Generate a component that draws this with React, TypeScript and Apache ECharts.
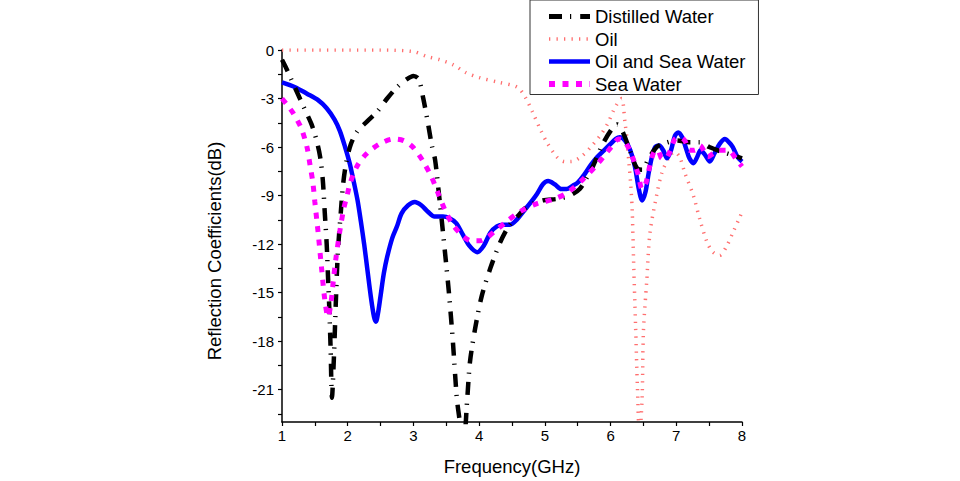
import React, { useEffect, useRef } from "react";
import * as echarts from "echarts";

const seriesNames = ["Distilled Water", "Oil", "Oil and Sea Water", "Sea Water"];

const distilledFreq = [1.0, 1.05, 1.15, 1.25, 1.35, 1.45, 1.52, 1.58, 1.62, 1.65, 1.68, 1.7, 1.72, 1.74, 1.76, 1.79, 1.82, 1.85, 1.89, 1.93, 1.98, 2.05, 2.15, 2.3, 2.45, 2.6, 2.75, 2.9, 3.0, 3.08, 3.15, 3.22, 3.28, 3.33, 3.38, 3.43, 3.48, 3.54, 3.6, 3.66, 3.7, 3.76, 3.82, 3.86, 3.94, 4.04, 4.17, 4.32, 4.45, 4.58, 4.73, 4.97, 5.2, 5.38, 5.53, 5.65, 5.73, 5.87, 6.0, 6.1, 6.2, 6.3, 6.4, 6.48, 6.58, 6.7, 6.8, 7.0, 7.2, 7.36, 7.5, 7.7, 7.86, 8.0];
const distilledDb = [-0.6, -1.0, -1.9, -2.8, -3.7, -4.6, -5.5, -6.6, -8.0, -10.0, -12.0, -14.0, -16.0, -18.5, -21.5, -19.0, -15.5, -12.5, -10.3, -8.3, -6.9, -5.8, -5.0, -4.4, -3.8, -3.0, -2.3, -1.8, -1.6, -1.8, -3.0, -4.5, -5.9, -6.8, -8.6, -10.5, -12.5, -15.0, -18.0, -21.5, -22.8, -24.5, -21.5, -19.3, -17.2, -15.2, -13.5, -11.9, -10.9, -10.3, -9.7, -9.3, -9.2, -9.0, -8.6, -7.8, -7.2, -5.9, -5.0, -4.6, -5.2, -6.3, -7.3, -7.4, -6.7, -6.0, -5.8, -5.6, -5.7, -5.7, -6.0, -6.3, -6.5, -6.7];

const oilFreq = [1.0, 1.5, 2.0, 2.5, 3.0, 3.2, 3.4, 3.6, 3.8, 4.0, 4.3, 4.58, 4.7, 4.82, 4.93, 5.03, 5.18, 5.3, 5.4, 5.55, 5.7, 5.84, 5.95, 6.05, 6.12, 6.17, 6.22, 6.25, 6.28, 6.31, 6.33, 6.35, 6.38, 6.41, 6.44, 6.48, 6.5, 6.55, 6.6, 6.7, 6.78, 6.88, 6.97, 7.05, 7.13, 7.26, 7.36, 7.47, 7.56, 7.66, 7.77, 7.86, 7.97, 8.0];
const oilDb = [0, 0, 0, 0, -0.1, -0.4, -0.6, -0.9, -1.4, -1.7, -2.0, -2.3, -2.9, -3.9, -4.9, -5.7, -6.6, -6.9, -6.9, -6.6, -6.0, -5.3, -4.6, -3.7, -3.2, -3.0, -4.5, -5.5, -7.0, -8.5, -10.0, -13.0, -17.0, -21.0, -24.0, -21.5, -17.4, -14.3, -11.3, -9.0, -7.6, -6.7, -6.3, -6.6, -7.6, -9.0, -10.5, -11.9, -12.5, -12.7, -12.1, -11.3, -10.3, -10.0];

const oilSeaFreq = [1.0, 1.2, 1.38, 1.55, 1.68, 1.8, 1.88, 1.96, 2.03, 2.1, 2.15, 2.2, 2.25, 2.3, 2.35, 2.4, 2.43, 2.46, 2.5, 2.55, 2.6, 2.68, 2.75, 2.82, 2.92, 3.02, 3.12, 3.22, 3.32, 3.45, 3.55, 3.65, 3.75, 3.85, 3.97, 4.07, 4.17, 4.27, 4.37, 4.47, 4.57, 4.67, 4.77, 4.88, 4.97, 5.05, 5.15, 5.25, 5.33, 5.42, 5.5, 5.6, 5.7, 5.8, 5.9, 6.0, 6.08, 6.14, 6.22, 6.3, 6.37, 6.43, 6.48, 6.53, 6.58, 6.63, 6.68, 6.74, 6.8, 6.86, 6.92, 6.98, 7.03, 7.09, 7.15, 7.2, 7.26, 7.32, 7.37, 7.44, 7.51, 7.58, 7.66, 7.74, 7.8, 7.86, 7.93, 8.0];
const oilSeaDb = [-2.0, -2.3, -2.7, -3.1, -3.6, -4.3, -5.0, -6.0, -7.0, -8.3, -9.3, -10.6, -12.0, -13.6, -15.2, -16.5, -16.8, -16.3, -15.2, -13.8, -12.8, -11.6, -10.9, -10.1, -9.6, -9.4, -9.6, -10.0, -10.3, -10.3, -10.4, -10.7, -11.4, -12.1, -12.5, -12.1, -11.3, -10.9, -10.8, -10.8, -10.5, -10.0, -9.5, -8.9, -8.3, -8.1, -8.3, -8.6, -8.6, -8.4, -8.2, -7.7, -7.1, -6.6, -6.2, -5.8, -5.5, -5.4, -5.6, -6.2, -7.2, -8.6, -9.3, -8.8, -7.6, -6.6, -6.0, -5.9, -6.2, -6.7, -6.2, -5.3, -5.1, -5.4, -6.1, -6.7, -7.0, -6.6, -6.2, -6.5, -6.9, -6.4, -5.8, -5.5, -5.7, -6.0, -6.6, -6.9];

const seaFreq = [1.0, 1.08, 1.17, 1.24, 1.3, 1.38, 1.43, 1.47, 1.5, 1.55, 1.6, 1.65, 1.7, 1.74, 1.78, 1.82, 1.88, 1.94, 1.99, 2.04, 2.14, 2.29, 2.49, 2.7, 2.85, 2.99, 3.15, 3.28, 3.37, 3.48, 3.6, 3.75, 3.88, 4.01, 4.12, 4.24, 4.42, 4.62, 4.88, 5.15, 5.35, 5.58, 5.79, 5.95, 6.05, 6.12, 6.2, 6.28, 6.35, 6.42, 6.48, 6.54, 6.6, 6.66, 6.72, 6.78, 6.84, 6.9, 6.98, 7.06, 7.13, 7.2, 7.28, 7.36, 7.48, 7.56, 7.64, 7.79, 7.92, 8.0];
const seaDb = [-3.0, -3.4, -3.9, -4.4, -4.9, -6.0, -7.2, -8.2, -9.4, -11.3, -13.4, -15.4, -16.5, -15.8, -14.3, -12.9, -11.2, -9.8, -9.0, -8.2, -7.2, -6.4, -5.8, -5.5, -5.6, -6.0, -6.9, -7.9, -8.8, -9.9, -10.8, -11.5, -11.8, -11.8, -11.6, -11.2, -10.6, -10.0, -9.5, -9.2, -8.8, -8.0, -7.1, -6.3, -5.8, -5.5, -5.6, -6.1, -6.8, -7.7, -8.6, -8.2, -7.1, -6.3, -6.2, -6.7, -6.7, -6.3, -5.5, -5.4, -5.6, -6.2, -6.2, -5.9, -6.6, -6.4, -6.2, -6.2, -6.8, -7.2];

const yLabelValues = [-21, -18, -15, -12, -9, -6, -3, 0];
const yTickValues = [-22.5, -21, -19.5, -18, -16.5, -15, -13.5, -12, -10.5, -9, -7.5, -6, -4.5, -3, -1.5, 0];

const FONT = "'Liberation Sans', Arial, Helvetica, sans-serif";

function pairs(xs: number[], ys: number[]) {
  return xs.map((x, i) => [x, ys[i]]);
}

export default function App() {
  const ref = useRef<HTMLDivElement>(null);
  useEffect(() => {
    if (!ref.current) return;
    const chart = echarts.init(ref.current, undefined, { renderer: "svg" });
    chart.setOption({
      animation: false,
      backgroundColor: "#ffffff",
      textStyle: { fontFamily: FONT },
      grid: { left: 282, right: 218, top: 50, bottom: 57 },
      legend: {
        data: [
          { name: seriesNames[0], lineStyle: { width: 5 } },
          { name: seriesNames[1], lineStyle: { width: 3.5 } },
          { name: seriesNames[2], lineStyle: { width: 4.5 } },
          { name: seriesNames[3], lineStyle: { width: 6 } },
        ],
        orient: "vertical",
        left: 530,
        top: 0,
        borderColor: "#333",
        borderWidth: 1,
        padding: [7, 13, 1, 16],
        itemGap: 3.5,
        itemWidth: 41,
        itemHeight: 14,
        itemStyle: { opacity: 0, borderWidth: 0 },
        textStyle: { fontSize: 18.5, color: "#000", fontFamily: FONT },
      },
      xAxis: {
        type: "value",
        min: 1,
        max: 8,
        interval: 1,
        name: "Frequency(GHz)",
        nameLocation: "middle",
        nameGap: 35,
        nameTextStyle: { fontSize: 18.5, color: "#000", fontFamily: FONT },
        axisLine: { onZero: false, lineStyle: { color: "#000", width: 1.5 } },
        axisTick: { length: 4, lineStyle: { color: "#000", width: 1.2 } },
        minorTick: { show: true, splitNumber: 2, length: 4, lineStyle: { color: "#000", width: 1.2 } },
        axisLabel: { fontSize: 15, color: "#000", margin: 6, fontFamily: FONT },
        splitLine: { show: false },
      },
      yAxis: {
        type: "value",
        min: -23,
        max: 0,
        name: "Reflection Coefficients(dB)",
        nameLocation: "middle",
        nameRotate: 90,
        nameGap: 58,
        nameTextStyle: { fontSize: 18.5, color: "#000", fontFamily: FONT, padding: [0, 30, 0, 0] },
        axisLine: { onZero: false, lineStyle: { color: "#000", width: 1.5 } },
        axisTick: { length: 4, customValues: yTickValues, lineStyle: { color: "#000", width: 1.2 } },
        axisLabel: { fontSize: 15, color: "#000", margin: 8, customValues: yLabelValues, fontFamily: FONT },
        splitLine: { show: false },
      },
      series: [
        {
          name: "Oil",
          type: "line",
          data: pairs(oilFreq, oilDb),
          showSymbol: false,
          symbol: "none",
          smooth: 0.3,
          z: 1,
          lineStyle: { color: "#ff6f6f", width: 3.5, type: [1.3, 6.2], cap: "butt" },
          itemStyle: { color: "#ff6f6f" },
        },
        {
          name: "Oil and Sea Water",
          type: "line",
          data: pairs(oilSeaFreq, oilSeaDb),
          showSymbol: false,
          symbol: "none",
          smooth: 0.3,
          z: 2,
          lineStyle: { color: "#0000ff", width: 4.5 },
          itemStyle: { color: "#0000ff" },
        },
        {
          name: "Distilled Water",
          type: "line",
          data: pairs(distilledFreq, distilledDb),
          showSymbol: false,
          symbol: "none",
          smooth: 0.3,
          z: 3,
          lineStyle: { color: "#000000", width: 4.5, type: [13, 8, 1.2, 9], cap: "butt" },
          itemStyle: { color: "#000000" },
        },
        {
          name: "Sea Water",
          type: "line",
          data: pairs(seaFreq, seaDb),
          showSymbol: false,
          symbol: "none",
          smooth: 0.3,
          z: 4,
          lineStyle: { color: "#ff00ff", width: 5, type: [6, 7.5], cap: "butt" },
          itemStyle: { color: "#ff00ff" },
        },
      ],
    });
    return () => chart.dispose();
  }, []);
  return (
    <div
      ref={ref}
      style={{ position: "fixed", left: 0, top: 0, width: 960, height: 481, background: "#fff" }}
    />
  );
}
